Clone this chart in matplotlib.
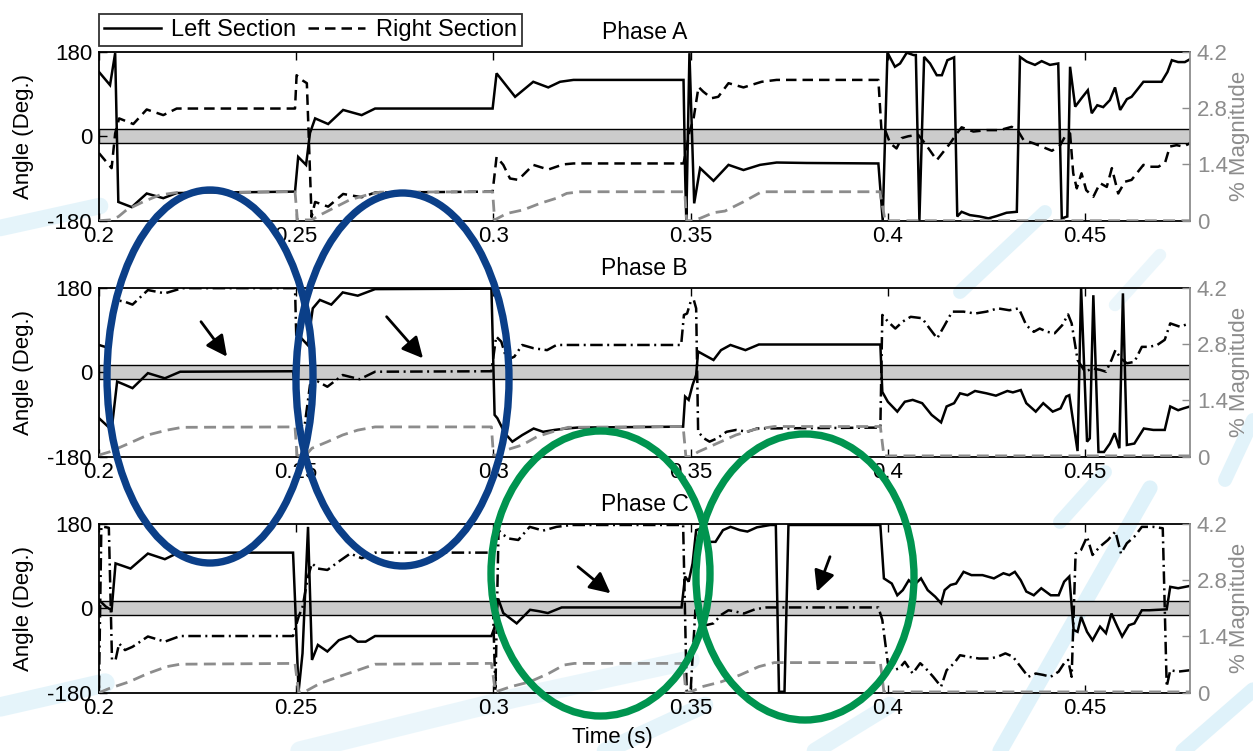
import matplotlib
matplotlib.use("Agg")
import matplotlib.pyplot as plt
from matplotlib.lines import Line2D
from matplotlib.patches import Ellipse, FancyArrowPatch

plt.rcParams['font.family'] = ['Liberation Sans', 'DejaVu Sans']

# ---------------- data ----------------
PHASE_TITLES = ["Phase A", "Phase B", "Phase C"]
X_RANGE = (0.2, 0.4766)
X_TICKS = [0.2, 0.25, 0.3, 0.35, 0.4, 0.45]
X_TICK_LABELS = ["0.2", "0.25", "0.3", "0.35", "0.4", "0.45"]
ANGLE_TICKS = [-180, 0, 180]
ANGLE_TICK_LABELS = ["-180", "0", "180"]
MAG_TICKS = [0, 1.4, 2.8, 4.2]
MAG_TICK_LABELS = ["0", "1.4", "2.8", "4.2"]
BAND = 15  # degrees, shaded tolerance band

# (time s, angle deg)
A_LEFT = [(0.2, 137), (0.2028, 109), (0.2041, 177), (0.2049, -140), (0.2083, -151), (0.2121, -122),
          (0.2163, -132), (0.2197, -121), (0.2497, -118), (0.2505, -44), (0.2525, -61), (0.2535, 7),
          (0.2548, 38), (0.2581, 26), (0.2619, 56), (0.2666, 45), (0.27, 59), (0.2998, 59),
          (0.3008, 134), (0.3055, 84), (0.3101, 116), (0.3139, 104), (0.3169, 116), (0.3203, 120),
          (0.3482, 120), (0.3486, -79), (0.3489, -180), (0.3497, 177), (0.3509, -143), (0.3524, -68),
          (0.3558, -95), (0.3596, -61), (0.3634, -72), (0.3676, -61), (0.3718, -56), (0.3794, -57),
          (0.3976, -58), (0.3987, -179), (0.3999, 178), (0.4018, 148), (0.4031, 155), (0.4048, 178),
          (0.4065, 173), (0.4071, 173), (0.4080, -179), (0.4092, 169), (0.4107, 155), (0.4124, 130),
          (0.4137, 130), (0.4151, 162), (0.4168, 168), (0.4176, -171), (0.4187, -161), (0.4208, -168),
          (0.4233, -171), (0.4255, -175), (0.4276, -170), (0.4301, -163), (0.4327, -161), (0.4335, 169),
          (0.4352, 159), (0.4373, 152), (0.4390, 160), (0.4411, 152), (0.4432, 155), (0.4441, -175),
          (0.4455, -171), (0.4462, 148), (0.4475, 63), (0.4491, 81), (0.4507, 98), (0.4517, 49),
          (0.4531, 66), (0.4546, 62), (0.4563, 77), (0.4576, 104), (0.4589, 56), (0.4606, 79),
          (0.4618, 84), (0.4635, 102), (0.4648, 116), (0.4665, 116), (0.4694, 116), (0.4709, 137),
          (0.4720, 162), (0.4736, 158), (0.4753, 158), (0.4766, 164)]
A_RIGHT = [(0.2, -36), (0.2032, -68), (0.2041, 6), (0.2051, 38), (0.2087, 26), (0.2121, 57), (0.2163, 45),
           (0.2197, 59), (0.2497, 59), (0.2501, 130), (0.2514, 120), (0.2527, 113), (0.2539, -172),
           (0.2548, -140), (0.2581, -150), (0.2619, -123), (0.2666, -130), (0.27, -120), (0.2998, -118),
           (0.3008, -44), (0.3025, -61), (0.3042, -90), (0.3063, -93), (0.3101, -61), (0.3139, -71),
           (0.3177, -60), (0.3203, -58), (0.3482, -58), (0.3489, -29), (0.3497, 10), (0.3507, 35),
           (0.352, 105), (0.3532, 95), (0.3553, 81), (0.357, 84), (0.3596, 113), (0.3634, 104),
           (0.368, 116), (0.3718, 120), (0.3976, 120), (0.3984, 10), (0.3993, 13), (0.4006, -15),
           (0.4022, -26), (0.4035, -4), (0.4052, 0), (0.4077, 3), (0.4094, -15), (0.4124, -51),
           (0.4141, -33), (0.4158, -15), (0.4175, 6), (0.4187, 19), (0.4217, 10), (0.4251, 13),
           (0.4284, 13), (0.4314, 20), (0.4331, 10), (0.4344, -8), (0.4369, -15), (0.4390, -22),
           (0.4416, -31), (0.4437, -19), (0.4449, -1), (0.4462, 6), (0.4470, -79), (0.4479, -111),
           (0.4491, -79), (0.4503, -115), (0.4521, -129), (0.4538, -100), (0.4555, -108), (0.4568, -68),
           (0.4584, -122), (0.4601, -97), (0.4618, -93), (0.4631, -79), (0.4648, -61), (0.4665, -65),
           (0.4686, -65), (0.4703, -56), (0.4715, -22), (0.4732, -19), (0.4749, -22), (0.4766, -15)]
# (time s, % magnitude)
A_MAG = [(0.2, 0.0), (0.2028, 0.02), (0.2049, 0.1), (0.207, 0.27), (0.2112, 0.47), (0.2154, 0.64),
         (0.2197, 0.7), (0.2497, 0.72), (0.2503, 0.02), (0.2539, 0.02), (0.256, 0.14), (0.2594, 0.31),
         (0.2636, 0.52), (0.2679, 0.64), (0.2712, 0.71), (0.2998, 0.72), (0.3003, 0.02), (0.3034, 0.18),
         (0.3076, 0.27), (0.3118, 0.43), (0.316, 0.56), (0.3186, 0.68), (0.322, 0.72), (0.3485, 0.72),
         (0.349, 0.0), (0.3505, 0.0), (0.3524, 0.06), (0.3558, 0.2), (0.3587, 0.24), (0.3634, 0.47),
         (0.368, 0.72), (0.398, 0.72), (0.3993, 0.0), (0.4766, 0.0)]

B_LEFT = [(0.2, -98), (0.2032, -123), (0.2046, -20), (0.2066, -27), (0.2085, -34), (0.2124, -2),
          (0.2167, -13), (0.2206, 1), (0.2492, 2), (0.2501, -63), (0.2509, 76), (0.2529, 58),
          (0.2542, 136), (0.256, 154), (0.2589, 144), (0.2618, 170), (0.2656, 163), (0.27, 177),
          (0.2995, 178), (0.3003, -91), (0.301, -98), (0.3029, -130), (0.3048, -148), (0.3073, -134),
          (0.3102, -120), (0.3126, -127), (0.3155, -123), (0.3184, -120), (0.3213, -118), (0.3481, -116),
          (0.3486, -52), (0.3495, -59), (0.3505, -27), (0.3514, -6), (0.3519, 44), (0.3534, 37),
          (0.3558, 26), (0.3577, 47), (0.3601, 58), (0.3639, 47), (0.3673, 59), (0.3981, 59),
          (0.3986, -42), (0.4, -63), (0.4024, -84), (0.4043, -63), (0.4063, -59), (0.4087, -66),
          (0.4111, -91), (0.4135, -107), (0.4149, -73), (0.4168, -66), (0.4183, -45), (0.4202, -49),
          (0.4221, -40), (0.425, -45), (0.4274, -50), (0.4303, -40), (0.4317, -43), (0.4337, -38),
          (0.4351, -66), (0.4375, -84), (0.4394, -66), (0.4418, -84), (0.4438, -77), (0.4452, -52),
          (0.446, -49), (0.4481, -168), (0.449, 180), (0.4505, -148), (0.4512, -141), (0.4521, 164),
          (0.4534, -170), (0.4548, -170), (0.4563, -152), (0.4575, -130), (0.4587, -162), (0.4596, 168),
          (0.4606, -155), (0.4625, -152), (0.4649, -120), (0.4673, -123), (0.4702, -123), (0.4716, -73),
          (0.4736, -81), (0.475, -77), (0.4766, -73)]
B_RIGHT = [(0.2, 58), (0.2027, 51), (0.2042, 154), (0.2066, 150), (0.2085, 144), (0.2124, 175),
           (0.2167, 168), (0.2211, 179), (0.2497, 179), (0.2506, -113), (0.2521, -116), (0.2535, -27),
           (0.2555, -20), (0.2579, -31), (0.2618, -6), (0.2661, -15), (0.27, 1), (0.2995, 2),
           (0.3007, 76), (0.302, 65), (0.3034, 26), (0.3053, 33), (0.3073, 58), (0.3102, 51),
           (0.3136, 47), (0.316, 58), (0.3476, 58), (0.3483, 122), (0.3491, 125), (0.35, 150),
           (0.3508, 154), (0.3514, 136), (0.3519, -127), (0.3534, -141), (0.3548, -148), (0.3567, -141),
           (0.3591, -127), (0.3615, -123), (0.3644, -127), (0.3668, -120), (0.3981, -118), (0.3986, 122),
           (0.4, 108), (0.4019, 93), (0.4038, 108), (0.4058, 118), (0.4087, 115), (0.4106, 93),
           (0.4125, 72), (0.4144, 100), (0.4163, 129), (0.4192, 129), (0.4221, 125), (0.425, 129),
           (0.4279, 136), (0.4308, 132), (0.4332, 136), (0.4351, 100), (0.437, 86), (0.4385, 93),
           (0.4404, 86), (0.4423, 83), (0.4442, 100), (0.4457, 123), (0.4466, 104), (0.4481, 26),
           (0.45, 1), (0.4519, 8), (0.4538, 5), (0.4553, 1), (0.4567, 26), (0.4577, 47), (0.4591, 29),
           (0.4606, 19), (0.4625, 22), (0.4644, 54), (0.4663, 54), (0.4683, 58), (0.4702, 69),
           (0.4716, 104), (0.474, 97), (0.4766, 104)]
B_MAG = [(0.2, 0.04), (0.2027, 0.12), (0.2076, 0.33), (0.2124, 0.54), (0.2172, 0.66), (0.2211, 0.73),
         (0.2497, 0.74), (0.2502, 0.04), (0.2521, 0.0), (0.254, 0.21), (0.2579, 0.37), (0.2618, 0.54),
         (0.2656, 0.66), (0.27, 0.74), (0.2995, 0.74), (0.3, 0.04), (0.301, 0.04), (0.3034, 0.17),
         (0.3073, 0.29), (0.3111, 0.5), (0.315, 0.62), (0.3189, 0.73), (0.3481, 0.75), (0.3488, 0.0),
         (0.35, 0.0), (0.3519, 0.12), (0.3567, 0.33), (0.3615, 0.54), (0.3663, 0.68), (0.3712, 0.75),
         (0.3981, 0.75), (0.399, 0.02), (0.4766, 0.02)]

C_LEFT = [(0.2, 18), (0.2017, 4), (0.2032, -4), (0.2042, 96), (0.2056, 92), (0.208, 85), (0.2124, 117),
          (0.2167, 105), (0.2201, 119), (0.2492, 119), (0.2497, 18), (0.2506, -178), (0.2516, -96),
          (0.253, 174), (0.254, -110), (0.2555, -78), (0.2579, -92), (0.2608, -68), (0.2637, -59),
          (0.2656, -71), (0.2676, -71), (0.27, -59), (0.2995, -59), (0.3003, -40), (0.3012, 21),
          (0.3025, -10), (0.3059, -32), (0.3093, -3), (0.3115, -6), (0.3138, -10), (0.3173, 2),
          (0.3477, 2), (0.3486, 68), (0.3495, 57), (0.3505, 96), (0.3514, 167), (0.3529, 171),
          (0.3543, 142), (0.3563, 142), (0.3582, 167), (0.3601, 174), (0.3625, 167), (0.3644, 164),
          (0.3668, 173), (0.3702, 178), (0.3716, 178), (0.3724, -178), (0.3738, -178), (0.3748, 178),
          (0.3981, 178), (0.399, 64), (0.401, 53), (0.4024, 28), (0.4038, 39), (0.4053, 60),
          (0.4067, 50), (0.4084, 64), (0.4101, 39), (0.412, 25), (0.4135, 11), (0.4144, 39),
          (0.4159, 50), (0.4173, 53), (0.4192, 78), (0.4212, 71), (0.424, 71), (0.4269, 64),
          (0.4293, 75), (0.4308, 71), (0.4322, 78), (0.4337, 60), (0.4351, 36), (0.437, 28),
          (0.4389, 43), (0.4413, 28), (0.4433, 28), (0.4447, 57), (0.446, 68), (0.4471, -46),
          (0.4481, -50), (0.449, -18), (0.4505, -50), (0.4519, -68), (0.4538, -39), (0.4553, -53),
          (0.4567, -11), (0.4582, -39), (0.4594, -60), (0.4611, -36), (0.4625, -32), (0.4644, -4),
          (0.4663, -4), (0.4707, -2), (0.4716, 46), (0.4736, 43), (0.4766, 48)]
C_RIGHT = [(0.2, -170), (0.2006, 175), (0.2025, 172), (0.2033, -110), (0.2042, -110), (0.2051, -75),
           (0.2066, -89), (0.2085, -82), (0.2124, -60), (0.2167, -71), (0.2206, -59), (0.2492, -59),
           (0.2506, -18), (0.2516, 3), (0.253, 68), (0.254, 96), (0.2555, 85), (0.2579, 82),
           (0.2608, 100), (0.2637, 117), (0.2666, 107), (0.27, 119), (0.2995, 119), (0.3005, -176),
           (0.3013, 167), (0.3025, 157), (0.304, 149), (0.3063, 146), (0.3092, 174), (0.3126, 166),
           (0.316, 174), (0.3198, 178), (0.3481, 178), (0.349, -176), (0.35, -176), (0.3512, -4),
           (0.3524, -28), (0.3538, -36), (0.3558, -32), (0.3577, -14), (0.3596, -4), (0.3615, -7),
           (0.3635, -11), (0.3663, -2), (0.3692, 2), (0.3976, 2), (0.3986, -25), (0.4, -117),
           (0.4014, -132), (0.4029, -128), (0.4043, -114), (0.4063, -139), (0.4082, -117), (0.4096, -128),
           (0.4115, -146), (0.4135, -167), (0.4149, -132), (0.4168, -117), (0.4183, -100), (0.4202, -103),
           (0.4231, -107), (0.426, -107), (0.4279, -103), (0.4298, -96), (0.4317, -103), (0.4337, -125),
           (0.4356, -146), (0.4375, -139), (0.4394, -142), (0.4413, -146), (0.4433, -135), (0.4447, -117),
           (0.4457, -110), (0.4466, -146), (0.4476, 117), (0.449, 125), (0.4505, 153), (0.4519, 114),
           (0.4538, 132), (0.4558, 146), (0.4577, 164), (0.4591, 117), (0.4606, 139), (0.4625, 153),
           (0.4644, 174), (0.4673, 174), (0.4697, 171), (0.4707, -167), (0.4716, -132), (0.4736, -135),
           (0.4766, -132)]
C_MAG = [(0.2, 0.0), (0.2027, 0.11), (0.2076, 0.27), (0.2124, 0.48), (0.2172, 0.65), (0.2206, 0.71),
         (0.2497, 0.73), (0.2506, 0.02), (0.2521, 0.02), (0.256, 0.23), (0.2608, 0.4), (0.2656, 0.56),
         (0.27, 0.71), (0.2995, 0.73), (0.3005, 0.02), (0.3044, 0.15), (0.3092, 0.27), (0.314, 0.48),
         (0.3179, 0.69), (0.3205, 0.73), (0.3481, 0.73), (0.3488, 0.02), (0.35, 0.02), (0.3529, 0.15),
         (0.3577, 0.27), (0.3625, 0.44), (0.3673, 0.65), (0.3712, 0.75), (0.3981, 0.75), (0.399, 0.02),
         (0.4766, 0.02)]

LEGEND_LABELS = ["Left Section", "Right Section"]

# ---------------- figure ----------------
W, H = 1253, 751
fig = plt.figure(figsize=(W / 100, H / 100), dpi=100)
fig.patch.set_facecolor("white")


def fx(px):
    return px / W


def fy(py):
    return 1 - py / H


# faint background watermark strokes (decoration)
SWOOSH = "#c6e8f6"
for (xs, ys, lw, a) in [([0, 100], [228, 206], 12, 0.45),
                        ([0, 105], [707, 683], 14, 0.45),
                        ([300, 515, 690], [751, 698, 660], 14, 0.35),
                        ([605, 705], [751, 705], 12, 0.45),
                        ([815, 890], [751, 705], 12, 0.45),
                        ([1000, 1150], [751, 488], 11, 0.55),
                        ([1183, 1253], [751, 690], 11, 0.55),
                        ([960, 1045], [292, 212], 10, 0.5),
                        ([1060, 1105], [522, 472], 10, 0.5),
                        ([1225, 1253], [480, 420], 10, 0.5),
                        ([1115, 1160], [305, 255], 9, 0.35)]:
    fig.add_artist(Line2D([fx(x) for x in xs], [fy(y) for y in ys], transform=fig.transFigure,
                          color=SWOOSH, lw=lw, alpha=a, solid_capstyle="round",
                          solid_joinstyle="round", zorder=-5))

RECTS = [(0.0790, 0.7061, 0.8707, 0.2250),
         (0.0790, 0.3919, 0.8707, 0.2250),
         (0.0790, 0.0776, 0.8707, 0.2246)]
SERIES = [(A_LEFT, A_RIGHT, A_MAG, (0, (4.2, 2.4))),
          (B_LEFT, B_RIGHT, B_MAG, (0, (5.0, 1.8, 0.8, 1.8))),
          (C_LEFT, C_RIGHT, C_MAG, (0, (5.0, 1.8, 0.8, 1.8)))]

GRAY = "#8c8c8c"
FS = 16

for i, (rect, title, (left, right, mag, rstyle)) in enumerate(zip(RECTS, PHASE_TITLES, SERIES)):
    ax = fig.add_axes(rect)
    ax.patch.set_visible(False)
    ax.axhspan(-BAND, BAND, facecolor="#cccccc", edgecolor="black", linewidth=1.0, zorder=1)
    t, v = zip(*left)
    ax.plot(t, v, color="black", lw=1.8, zorder=3, solid_joinstyle="miter")
    t, v = zip(*right)
    ax.plot(t, v, color="black", lw=1.8, ls=rstyle, zorder=3)
    ax.set_xlim(*X_RANGE)
    ax.set_ylim(-180, 180)
    ax.set_xticks(X_TICKS)
    ax.set_xticklabels(X_TICK_LABELS)
    ax.set_yticks(ANGLE_TICKS)
    ax.set_yticklabels(ANGLE_TICK_LABELS)
    ax.tick_params(axis="x", direction="in", top=True, length=6, width=1.0, labelsize=FS, pad=4)
    ax.tick_params(axis="y", direction="in", right=False, length=6, width=1.0, labelsize=FS, pad=5)
    for s in ["top", "bottom", "left"]:
        ax.spines[s].set_linewidth(1.3)
    ax.spines["right"].set_visible(False)
    ax.set_ylabel("Angle (Deg.)", fontsize=FS)
    ax.yaxis.set_label_coords(-0.060, 0.5)
    ax.set_title(title, fontsize=16.5, pad=9.5)

    ax2 = ax.twinx()
    t, v = zip(*mag)
    ax2.plot(t, v, color=GRAY, lw=2.0, ls=(0, (4.3, 2.3)), zorder=2)
    ax2.set_ylim(0, 4.2)
    ax2.set_xlim(*X_RANGE)
    ax2.set_yticks(MAG_TICKS)
    ax2.set_yticklabels(MAG_TICK_LABELS)
    ax2.tick_params(axis="y", direction="in", length=6, width=1.0, colors=GRAY, labelsize=FS, pad=5)
    for s in ["top", "bottom", "left"]:
        ax2.spines[s].set_visible(False)
    ax2.spines["right"].set_color(GRAY)
    ax2.spines["right"].set_linewidth(1.3)
    ax2.set_ylabel("% Magnitude", fontsize=FS, color=GRAY)
    ax2.yaxis.set_label_coords(1.036, 0.5)

    if i == 0:
        handles = [Line2D([], [], color="black", lw=1.8),
                   Line2D([], [], color="black", lw=1.8, ls=(0, (4.2, 2.4)))]
        leg = ax.legend(handles, LEGEND_LABELS, loc="lower left", bbox_to_anchor=(0.0, 1.033),
                        ncol=2, fontsize=17, frameon=True, fancybox=False, borderaxespad=0,
                        borderpad=0.22, handlelength=2.4, handletextpad=0.45, columnspacing=0.5)
        leg.get_frame().set_edgecolor("black")
        leg.get_frame().set_linewidth(1.3)

fig.text(fx(612), fy(737), "Time (s)", ha="center", va="center", fontsize=FS)

# highlight ellipses
BLUE = "#0b3f88"
GREEN = "#00944f"
for (cx, cy, w, h, c) in [(210, 376.5, 206, 373, BLUE), (402.5, 379.5, 213, 373, BLUE),
                          (600.5, 573.5, 219, 285, GREEN), (805, 577, 218, 286, GREEN)]:
    fig.add_artist(Ellipse((fx(cx), fy(cy)), w / W, h / H, transform=fig.transFigure,
                           fill=False, edgecolor=c, linewidth=5.3, zorder=10))

# arrows
for (x0, y0, x1, y1) in [(201, 321.7, 227, 356.7), (386.6, 316.7, 423, 358.3),
                         (578, 566.7, 610.5, 593.3), (830, 556.7, 817, 591.7)]:
    fig.add_artist(FancyArrowPatch((fx(x0), fy(y0)), (fx(x1), fy(y1)), transform=fig.transFigure,
                                   arrowstyle="-|>,head_length=0.7,head_width=0.35", mutation_scale=18,
                                   color="black", lw=2.0, shrinkA=0, shrinkB=0, zorder=11))

fig.savefig("out.png", dpi=100, facecolor="white")
